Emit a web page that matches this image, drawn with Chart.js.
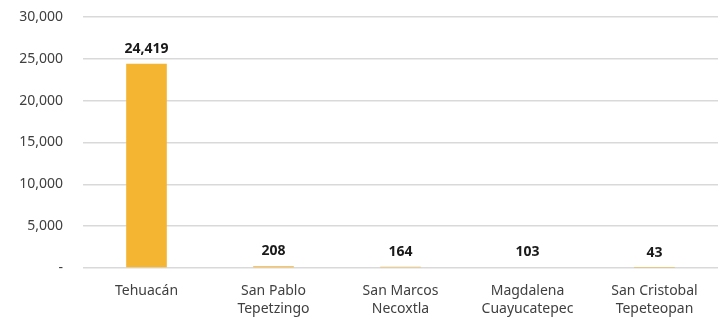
<!DOCTYPE html>
<html lang="es">
<head>
    <meta charset="UTF-8">
    <title>Población por localidad</title>
    <style>
        html, body { margin: 0; padding: 0; background: #ffffff; }
        #wrap { width: 719px; height: 317px; }
    </style>
</head>
<body>
<div id="wrap"><canvas id="grafica" width="719" height="317"></canvas></div>

<script src="https://cdn.jsdelivr.net/npm/chart.js"></script>
<script>
    // Datos
    const localidades = [
        'Tehuacán',
        ['San Pablo', 'Tepetzingo'],
        ['San Marcos', 'Necoxtla'],
        ['Magdalena', 'Cuayucatepec'],
        ['San Cristobal', 'Tepeteopan']
    ];
    const poblacion = [24419, 208, 164, 103, 43];
    const ticksY = [0, 5000, 10000, 15000, 20000, 25000, 30000];

    const fuente = "'Noto Sans', 'DejaVu Sans', sans-serif";

    // Etiquetas de valor encima de cada barra
    const etiquetas = {
        id: 'etiquetas',
        afterDatasetsDraw(chart) {
            const ctx = chart.ctx;
            const meta = chart.getDatasetMeta(0);
            ctx.save();
            ctx.font = 'bold 14px ' + fuente;
            ctx.fillStyle = '#1a1a1a';
            ctx.textAlign = 'center';
            ctx.textBaseline = 'bottom';
            meta.data.forEach((bar, i) => {
                ctx.fillText(poblacion[i].toLocaleString('en-US'), bar.x, bar.y - 8);
            });
            ctx.restore();
        }
    };

    new Chart(document.getElementById('grafica'), {
        type: 'bar',
        data: {
            labels: localidades,
            datasets: [{
                data: poblacion,
                backgroundColor: '#F4B532',
                barPercentage: 0.32,
                categoryPercentage: 1
            }]
        },
        options: {
            responsive: false,
            animation: false,
            layout: { padding: { top: 0, right: 1, left: 0, bottom: 0 } },
            plugins: {
                legend: { display: false },
                tooltip: { enabled: false }
            },
            scales: {
                x: {
                    afterFit(scale) { scale.height = 49; },
                    grid: { display: false, drawTicks: false },
                    border: { display: false },
                    ticks: {
                        color: '#404040',
                        font: { family: fuente, size: 14, lineHeight: 1.3 },
                        padding: 14,
                        maxRotation: 0,
                        autoSkip: false
                    }
                },
                y: {
                    min: 0,
                    max: 30000,
                    afterBuildTicks(scale) {
                        scale.ticks = ticksY.map(v => ({ value: v }));
                    },
                    afterFit(scale) {
                        scale.width = 83;
                        scale.paddingTop = 17;
                        scale.paddingBottom = 9;
                    },
                    grid: { color: '#d9d9d9', lineWidth: 1.5, drawTicks: false },
                    border: { display: false },
                    ticks: {
                        color: '#404040',
                        font: { family: fuente, size: 14 },
                        padding: 20,
                        callback: v => v === 0 ? '-' : v.toLocaleString('en-US')
                    }
                }
            }
        },
        plugins: [etiquetas]
    });
</script>
</body>
</html>
